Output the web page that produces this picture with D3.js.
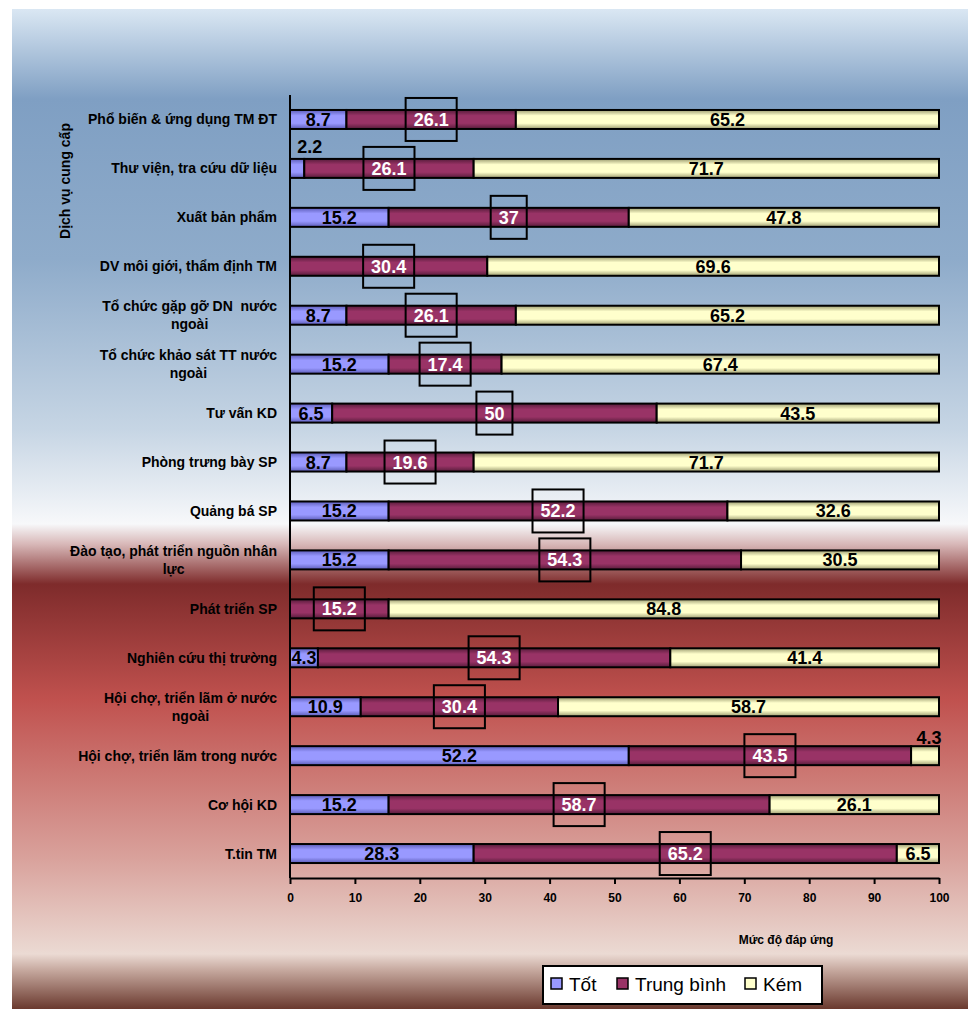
<!DOCTYPE html>
<html>
<head>
<meta charset="utf-8">
<script src="https://cdn.jsdelivr.net/npm/d3@7"></script>
<style>
  body { margin: 0; background: #fff; }
  svg text { font-family: "Liberation Sans", Arial, sans-serif; white-space: pre; }
</style>
</head>
<body>
<svg id="chart" width="970" height="1009"></svg>
<script>
// categories, top to bottom
var categories = [
  "Phổ biến & ứng dụng TM ĐT",
  "Thư viện, tra cứu dữ liệu",
  "Xuất bản phẩm",
  "DV môi giới, thẩm định TM",
  "Tổ chức gặp gỡ DN  nước\nngoài",
  "Tổ chức khảo sát TT nước\nngoài",
  "Tư vấn KD",
  "Phòng trưng bày SP",
  "Quảng bá SP",
  "Đào tạo, phát triển nguồn nhân\nlực",
  "Phát triển SP",
  "Nghiên cứu thị trường",
  "Hội chợ, triển lãm ở nước\nngoài",
  "Hội chợ, triển lãm trong nước",
  "Cơ hội KD",
  "T.tin TM"
];
var tot       = [8.7, 2.2, 15.2, 0,    8.7, 15.2, 6.5, 8.7, 15.2, 15.2, 0,    4.3, 10.9, 52.2, 15.2, 28.3];
var trungBinh = [26.1, 26.1, 37, 30.4, 26.1, 17.4, 50, 19.6, 52.2, 54.3, 15.2, 54.3, 30.4, 43.5, 58.7, 65.2];
var kem       = [65.2, 71.7, 47.8, 69.6, 65.2, 67.4, 43.5, 71.7, 32.6, 30.5, 84.8, 41.4, 58.7, 4.3, 26.1, 6.5];
var seriesNames = ["Tốt", "Trung bình", "Kém"];
var xTicks = [0, 10, 20, 30, 40, 50, 60, 70, 80, 90, 100];

var svg = d3.select("#chart");
var defs = svg.append("defs");

/* background */
var bg = defs.append("linearGradient").attr("id", "bg")
  .attr("x1", 0).attr("y1", 0).attr("x2", 0).attr("y2", 1);
[[0, "#dae7f3"], [0.09, "#7f9fc3"], [0.25, "#8eabca"], [0.42, "#c6d5e4"],
 [0.515, "#f7f8fa"], [0.535, "#d8b8b8"], [0.575, "#7e2b2b"],
 [0.69, "#c0514e"], [0.85, "#d9a29c"], [0.945, "#ebdad3"], [0.962, "#c4a69c"],
 [1, "#6a392e"]].forEach(function(s) {
  bg.append("stop").attr("offset", s[0]).attr("stop-color", s[1]);
});
svg.append("rect").attr("x", 12).attr("y", 9).attr("width", 956).attr("height", 1000)
  .attr("fill", "url(#bg)");

/* bar fills */
var fills = [["#9999ff", "#5c5cb8"], ["#993366", "#561c3a"], ["#ffffcc", "#9c9c70"]];
fills.forEach(function(f, i) {
  var g = defs.append("linearGradient").attr("id", "bar" + i)
    .attr("x1", 0).attr("y1", 0).attr("x2", 0).attr("y2", 1);
  g.append("stop").attr("offset", 0).attr("stop-color", f[1]);
  g.append("stop").attr("offset", 0.3).attr("stop-color", f[0]);
  g.append("stop").attr("offset", 0.7).attr("stop-color", f[0]);
  g.append("stop").attr("offset", 1).attr("stop-color", f[1]);
});

var x = d3.scaleLinear().domain([0, 100]).range([290, 939]);
var y = d3.scaleBand().domain(d3.range(categories.length)).range([95, 878]);
var barH = 19;

var rows = categories.map(function(c, i) {
  return { i: i, vals: [tot[i], trungBinh[i], kem[i]] };
});

/* bars */
rows.forEach(function(r) {
  var cy = y(r.i) + y.bandwidth() / 2;
  var start = 0;
  r.vals.forEach(function(v, s) {
    if (v > 0) {
      svg.append("rect")
        .attr("x", x(start)).attr("y", cy - barH / 2)
        .attr("width", x(start + v) - x(start)).attr("height", barH)
        .attr("fill", "url(#bar" + s + ")")
        .attr("stroke", "#000").attr("stroke-width", 2);
    }
    start += v;
  });
});

/* value labels */
rows.forEach(function(r) {
  var cy = y(r.i) + y.bandwidth() / 2;
  var start = 0;
  r.vals.forEach(function(v, s) {
    var mid = x(start + v / 2);
    start += v;
    if (v <= 0) return;
    if (s === 1) {
      var t = svg.append("text").attr("x", mid).attr("y", cy + 6.5)
        .attr("text-anchor", "middle").attr("font-size", 18).attr("font-weight", "bold")
        .attr("fill", "#fff").text(v);
      var w = t.node().getComputedTextLength() + 16;
      svg.append("rect").attr("x", mid - w / 2).attr("y", cy - 21.5)
        .attr("width", w).attr("height", 43)
        .attr("fill", "none").attr("stroke", "#000").attr("stroke-width", 2);
      return;
    }
    var lx = mid, ly = cy + 6.5, anchor = "middle";
    if (s === 0 && v < 3) { ly = cy - barH / 2 - 6; anchor = "start"; }
    if (s === 2 && v < 5) { lx = mid + 4; ly = cy - barH / 2 - 2; }
    svg.append("text").attr("x", lx).attr("y", ly)
      .attr("text-anchor", anchor).attr("font-size", 18).attr("font-weight", "bold")
      .attr("fill", "#000").text(v);
  });
});

/* category labels */
categories.forEach(function(c, i) {
  var cy = y(i) + y.bandwidth() / 2;
  var lines = c.split("\n");
  var t = svg.append("text").attr("font-size", 14).attr("font-weight", "bold").attr("fill", "#000");
  if (lines.length === 1) {
    t.attr("x", 277).attr("y", cy + 5).attr("text-anchor", "end").text(c);
  } else {
    t.attr("text-anchor", "middle");
    var spans = lines.map(function(l, k) {
      return t.append("tspan").attr("y", cy - 4 + k * 18).text(l);
    });
    var wmax = d3.max(spans, function(s) { return s.node().getComputedTextLength(); });
    spans.forEach(function(s) { s.attr("x", 277 - wmax / 2); });
  }
});

/* axes */
svg.append("line").attr("x1", 290).attr("x2", 290).attr("y1", 95).attr("y2", 878)
  .attr("stroke", "#000").attr("stroke-width", 2);

var ax = svg.append("g").attr("transform", "translate(0,878)")
  .call(d3.axisBottom(x).tickValues(xTicks).tickSize(6).tickSizeOuter(0).tickPadding(9));
ax.select(".domain").attr("stroke", "#000").attr("stroke-width", 2);
ax.selectAll(".tick line").attr("stroke", "#000").attr("stroke-width", 2);
ax.selectAll(".tick text").attr("font-size", 12).attr("font-weight", "bold")
  .attr("fill", "#000").attr("font-family", "'Liberation Sans', Arial, sans-serif");

svg.append("text").attr("x", 786).attr("y", 944).attr("text-anchor", "middle")
  .attr("font-size", 12).attr("font-weight", "bold").text("Mức độ đáp ứng");

svg.append("text").attr("transform", "translate(70,181) rotate(-90)")
  .attr("text-anchor", "middle").attr("font-size", 14).attr("font-weight", "bold")
  .text("Dịch vụ cung cấp");

/* legend */
var lg = svg.append("g");
lg.append("rect").attr("x", 543).attr("y", 966).attr("width", 279).attr("height", 38)
  .attr("fill", "#fff").attr("stroke", "#000").attr("stroke-width", 2);
var legX = [551, 617, 745];
seriesNames.forEach(function(n, i) {
  lg.append("rect").attr("x", legX[i]).attr("y", 978).attr("width", 11).attr("height", 11)
    .attr("fill", fills[i][0]).attr("stroke", "#000").attr("stroke-width", 1.5);
  lg.append("text").attr("x", legX[i] + 18).attr("y", 991).attr("font-size", 19)
    .attr("fill", "#000").text(n);
});
</script>
</body>
</html>
